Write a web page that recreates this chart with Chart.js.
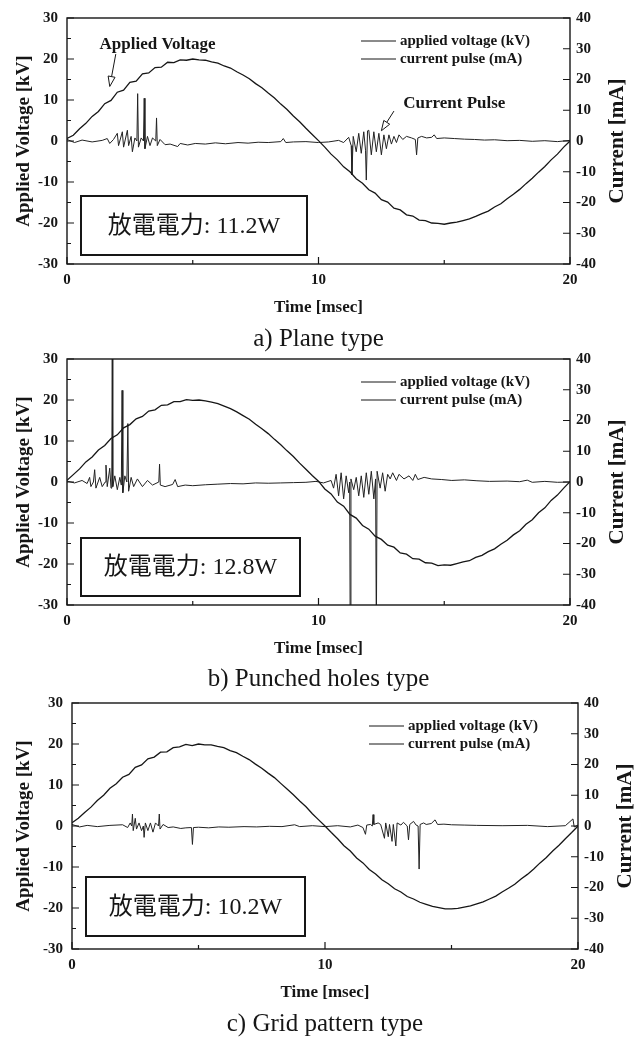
<!DOCTYPE html>
<html>
<head>
<meta charset="utf-8">
<script src="https://cdn.jsdelivr.net/npm/chart.js@4.4.0/dist/chart.umd.min.js"></script>
<style>
  body { margin: 0; background: #fff; width: 643px; height: 1045px; position: relative; overflow: hidden; }
  canvas { position: absolute; left: 0; }
  .cap { position: absolute; font: 25px "Liberation Serif", serif; color: #161616; text-align: center; line-height: 26px; }
</style>
</head>
<body>
<canvas id="pa" width="643" height="326" style="top:0px"></canvas>
<canvas id="pb" width="643" height="326" style="top:341px"></canvas>
<canvas id="pc" width="643" height="326" style="top:685px"></canvas>
<div class="cap" style="left:67px;width:503px;top:325px">a) Plane type</div>
<div class="cap" style="left:67px;width:503px;top:665px">b) Punched holes type</div>
<div class="cap" style="left:72px;width:506px;top:1010px">c) Grid pattern type</div>
<script>
'use strict';
// axes
const timeTicks = [0, 10, 20];
const timeMinor = [5, 15];
const voltTicks = [-30, -20, -10, 0, 10, 20, 30];
const voltMinor = [-25, -15, -5, 5, 15, 25];
const curTicks = [-40, -30, -20, -10, 0, 10, 20, 30, 40];

// applied voltage, sampled every 0.25 ms (kV)
const voltTime = [0,0.25,0.5,0.75,1,1.25,1.5,1.75,2,2.25,2.5,2.75,3,3.25,3.5,3.75,4,4.25,4.5,4.75,5,
  5.25,5.5,5.75,6,6.25,6.5,6.75,7,7.25,7.5,7.75,8,8.25,8.5,8.75,9,9.25,9.5,9.75,10,
  10.25,10.5,10.75,11,11.25,11.5,11.75,12,12.25,12.5,12.75,13,13.25,13.5,13.75,14,14.25,14.5,14.75,15,
  15.25,15.5,15.75,16,16.25,16.5,16.75,17,17.25,17.5,17.75,18,18.25,18.5,18.75,19,19.25,19.5,19.75,20];

const voltA = [0.6,1.4,3.0,4.3,6.0,7.2,9.1,9.9,11.9,12.4,14.3,14.6,16.4,16.6,17.9,18.0,19.2,19.1,19.8,19.7,20.0,
  19.8,19.7,19.3,19.0,18.3,17.8,16.9,16.1,15.2,14.0,13.0,11.7,10.5,9.0,7.7,6.1,4.7,3.1,1.6,0.1,
  -1.5,-3.2,-4.6,-6.3,-7.5,-9.2,-10.3,-11.9,-12.7,-14.3,-14.9,-16.4,-16.8,-18.0,-18.3,-19.3,-19.4,-20.0,-20.1,-20.3,
  -20.0,-19.8,-19.4,-19.0,-18.4,-17.7,-17.1,-16.1,-15.3,-14.1,-13.0,-11.8,-10.4,-9.1,-7.6,-6.2,-4.6,-3.2,-1.5,0.0];

const voltB = [0.4,1.8,3.2,4.9,6.1,7.8,8.9,10.6,11.5,13.2,14.0,15.4,16.0,17.3,17.6,18.7,18.8,19.6,19.6,20.1,19.9,
  20.0,19.8,19.5,19.1,18.5,17.9,17.1,16.2,15.3,14.1,13.0,11.8,10.4,9.1,7.6,6.2,4.6,3.1,1.6,0.2,
  -1.7,-2.9,-4.9,-5.9,-7.9,-8.8,-10.6,-11.5,-13.2,-14.0,-15.4,-15.9,-17.3,-17.6,-18.7,-18.8,-19.7,-19.8,-20.4,-20.2,
  -20.3,-19.9,-19.5,-19.2,-18.4,-17.9,-17.0,-16.3,-15.2,-14.2,-12.9,-11.9,-10.3,-9.2,-7.5,-6.3,-4.5,-3.2,-1.5,0.1];

const voltC = [0.8,1.9,3.3,4.6,6.2,7.5,9.2,10.3,11.9,12.6,14.3,14.9,16.4,16.8,18.0,18.1,19.1,19.3,19.9,19.6,20.0,
  19.8,19.8,19.4,19.1,18.4,17.9,17.0,16.2,15.1,14.1,12.9,11.8,10.4,9.0,7.6,6.1,4.7,3.0,1.5,0.0,
  -1.6,-3.1,-4.8,-6.1,-7.8,-9.0,-10.6,-11.7,-13.1,-14.1,-15.3,-16.1,-17.2,-17.8,-18.6,-19.1,-19.6,-19.9,-20.2,-20.2,
  -20.1,-19.8,-19.5,-19.0,-18.5,-17.8,-17.1,-16.1,-15.2,-14.2,-12.9,-11.8,-10.5,-9.0,-7.7,-6.1,-4.7,-3.1,-1.6,0.0];

// current pulses (ms, mA)
const curTimeA = [0,0.3,0.6,1.0,1.4,1.6,1.7,1.85,2.0,2.05,2.2,2.25,2.4,2.45,2.55,2.6,2.7,2.78,2.81,2.84,2.95,3.04,3.07,3.1,3.2,3.3,3.4,3.53,3.56,3.59,
  3.7,3.9,4.1,4.4,4.5,4.8,5.1,5.5,5.9,6.3,6.8,7.2,7.6,8.0,8.5,8.6,8.7,9.0,9.5,10.0,10.4,10.8,11.0,11.2,11.3,11.33,11.38,11.5,11.6,11.7,
  11.8,11.87,11.9,11.95,12.0,12.1,12.2,12.3,12.4,12.5,12.6,12.7,12.8,12.9,13.0,13.1,13.2,13.35,13.5,13.7,13.85,13.9,13.95,14.1,14.3,14.5,14.6,14.7,
  15.0,15.4,15.8,16.2,16.6,17.0,17.5,18.0,18.5,19.0,19.5,20];
const curA = [0.5,-0.5,0.3,-0.3,0.2,0.8,-0.8,0.5,2.5,-1.5,3.0,-2.0,3.5,-1.5,1.5,-3.5,1.0,0,15.4,-2.0,1.0,0,13.9,-2.5,1.5,-1.5,1.0,0,7.5,-1.5,
  0.5,-1.2,-1.0,-1.8,-0.8,-1.3,-0.8,-1.0,-0.6,-0.9,-0.5,-0.7,-0.4,-0.5,-0.2,0.8,-0.5,-0.3,-0.2,-0.5,-0.3,0.2,-0.5,1.2,-1.5,-11,1.5,-3.5,2.5,-4.0,
  3.0,-3.0,-12.7,3.3,3.5,-4.5,3.0,-3.5,2.5,-4.5,2.0,-2.5,2.0,-1.0,1.5,-0.5,2.0,0.5,1.5,1.0,0.5,-4.5,1.0,1.5,1.0,1.2,2.0,0.8,
  1.0,0.8,0.6,0.5,0.3,0.4,0.1,0.2,-0.1,0.1,-0.2,0.2];

const curTimeB = [0,0.3,0.6,0.8,0.9,0.95,1.05,1.1,1.15,1.3,1.4,1.52,1.55,1.6,1.7,1.75,1.78,1.8,1.82,1.9,2.0,2.1,2.16,2.19,2.22,2.3,2.38,2.42,2.45,2.55,
  2.65,2.8,3.0,3.2,3.4,3.65,3.68,3.71,3.9,4.2,4.3,4.4,4.7,5.0,5.5,6.0,6.5,7.0,7.5,8.0,8.5,9.0,9.5,9.9,10.2,10.5,10.6,10.7,10.8,10.9,
  11.0,11.1,11.2,11.24,11.26,11.29,11.4,11.5,11.6,11.7,11.8,11.9,12.0,12.1,12.2,12.27,12.3,12.33,12.45,12.55,12.65,12.75,12.85,12.95,13.1,13.2,13.4,13.6,13.75,13.85,
  13.95,14.2,14.5,14.9,15.3,15.8,16.3,16.8,17.5,18.0,18.3,18.5,19.0,19.5,20];
const curB = [0.3,-0.3,0.5,-0.5,1.5,-1.5,0,4.0,-2.0,1.5,-1.5,0,5.5,-1.5,4.5,-2.0,0,45,-1.5,2.0,-2.5,1.5,-1.0,29.8,-3.5,2.0,0,19,-3.0,1.5,
  -1.5,1.0,-1.5,0.5,-1.0,0,5.8,-1.0,-1.5,-0.8,0.8,-1.5,-1.0,-1.2,-0.9,-0.7,-0.5,-0.6,-0.3,-0.4,-0.3,-0.2,-0.1,0.2,-0.3,0.5,-2.0,2.5,-4.5,3.0,
  -5.5,2.0,-3.5,0,-50,1.0,-2.5,1.5,-4.5,2.0,-5.0,3.0,-4.0,3.5,-5.5,1.0,-50,3.5,-2.0,3.0,-3.0,2.5,1.0,3.0,0.5,2.5,1.0,2.0,0.5,2.5,
  0.8,1.5,1.0,0.8,0.5,0.7,0.4,0.2,0.3,0.1,0.6,-0.1,0.2,-0.1,0];

const curTimeC = [0,0.3,0.6,1.0,1.5,2.0,2.2,2.3,2.36,2.39,2.42,2.5,2.55,2.65,2.75,2.82,2.85,2.9,3.0,3.1,3.2,3.3,3.42,3.45,3.48,3.6,3.8,4.0,4.3,4.5,
  4.72,4.76,4.8,5.0,5.4,5.8,6.2,6.8,7.3,7.8,8.3,8.8,9.0,9.5,10.0,10.5,11.0,11.3,11.5,11.6,11.65,11.8,11.87,11.9,11.93,12.1,12.2,12.35,12.4,12.5,
  12.55,12.65,12.7,12.8,12.85,13.0,13.1,13.25,13.3,13.35,13.5,13.6,13.68,13.72,13.76,13.9,14.0,14.2,14.35,14.45,14.7,15.0,15.5,16.0,17.0,18.0,18.8,19.5,19.8,19.85,20];
const curC = [0.5,-0.3,0.2,-0.2,0.2,0.4,-0.5,1.0,0,3.9,-1.5,2.5,-1.0,1.0,-1.5,0,-3.7,1.0,-1.5,1.0,-2.0,1.0,0,3.9,-1.0,0.5,-0.5,-0.3,-0.8,-0.6,
  -0.5,-6.0,-0.5,-0.4,-0.6,-0.3,-0.4,-0.2,-0.3,-0.1,-0.2,0.4,-0.2,0.1,-0.2,0.1,-0.3,0.3,-0.5,-2.7,0.3,0.5,0,3.7,0.5,1.0,0.5,-4.0,1.0,-3.5,
  0.5,-5.0,0.5,-6.5,1.0,0.3,1.2,0,-4.5,0.5,1.5,0.3,0,-14,0.5,1.0,0.5,0.8,2.0,0.5,0.6,0.4,0.3,0.2,0.1,0.2,-0.2,0.1,2.3,-0.3,0.3];

const ink = '#161616';
const serif = '"Liberation Serif", "Times New Roman", serif';

// per-panel extras: power box, callouts (in ms / kV)
const panelExtras = {
  pa: { box: '放電電力: 11.2W', boxW: 226, boxTop: 178, boxH: 59,
        notes: [
          { text: 'Applied Voltage', tx: 3.6, ty: 23.6, from: [1.94, 21.2], to: [1.7, 13.3] },
          { text: 'Current Pulse', tx: 15.4, ty: 9.0, from: [13.0, 7.3], to: [12.5, 2.5] }
        ] },
  pb: { box: '放電電力: 12.8W', boxW: 219, boxTop: 179, boxH: 58, notes: [] },
  pc: { box: '放電電力: 10.2W', boxW: 219, boxTop: 174, boxH: 59, notes: [] }
};

function arrow(ctx, x0, y0, x1, y1) {
  const ang = Math.atan2(y1 - y0, x1 - x0);
  const len = 10, half = 3.5;
  const bx = x1 - Math.cos(ang) * len, by = y1 - Math.sin(ang) * len;
  ctx.beginPath();
  ctx.moveTo(x0, y0);
  ctx.lineTo(bx, by);
  ctx.stroke();
  ctx.beginPath();
  ctx.moveTo(x1, y1);
  ctx.lineTo(bx - Math.sin(ang) * half, by + Math.cos(ang) * half);
  ctx.lineTo(bx + Math.sin(ang) * half, by - Math.cos(ang) * half);
  ctx.closePath();
  ctx.fillStyle = '#fff';
  ctx.fill();
  ctx.stroke();
}

const decor = {
  id: 'decor',
  afterDatasetsDraw(chart) {
    const ex = panelExtras[chart.canvas.id];
    const { ctx, chartArea: a } = chart;
    const sx = chart.scales.x, sy = chart.scales.y, sy2 = chart.scales.y2;
    ctx.save();
    ctx.strokeStyle = ink;
    ctx.lineWidth = 1.4;
    ctx.strokeRect(a.left, a.top, a.right - a.left, a.bottom - a.top);

    // inward tick marks
    ctx.lineWidth = 1.2;
    ctx.beginPath();
    voltTicks.forEach(v => { const p = sy.getPixelForValue(v); ctx.moveTo(a.left, p); ctx.lineTo(a.left + 7, p); });
    voltMinor.forEach(v => { const p = sy.getPixelForValue(v); ctx.moveTo(a.left, p); ctx.lineTo(a.left + 4, p); });
    curTicks.forEach(v => { const p = sy2.getPixelForValue(v); ctx.moveTo(a.right, p); ctx.lineTo(a.right - 7, p); });
    timeTicks.forEach(v => { const p = sx.getPixelForValue(v); ctx.moveTo(p, a.bottom); ctx.lineTo(p, a.bottom - 7); });
    timeMinor.forEach(v => { const p = sx.getPixelForValue(v); ctx.moveTo(p, a.bottom); ctx.lineTo(p, a.bottom - 4); });
    ctx.stroke();

    // legend
    ctx.fillStyle = ink;
    ctx.font = 'bold 15px ' + serif;
    ctx.textBaseline = 'middle';
    ctx.textAlign = 'left';
    chart.data.datasets.forEach((ds, i) => {
      const ly = a.top + 23 + i * 18;
      ctx.lineWidth = 1;
      ctx.beginPath();
      ctx.moveTo(a.right - 209, ly);
      ctx.lineTo(a.right - 174, ly);
      ctx.stroke();
      ctx.fillText(ds.label, a.right - 170, ly);
    });

    // right axis title, reading bottom to top
    ctx.save();
    ctx.translate(a.right + 48, (a.top + a.bottom) / 2);
    ctx.rotate(-Math.PI / 2);
    ctx.textAlign = 'center';
    ctx.font = 'bold 21px ' + serif;
    ctx.fillText('Current [mA]', 0, 0);
    ctx.restore();

    // callouts
    ctx.font = 'bold 17px ' + serif;
    ctx.textAlign = 'center';
    ex.notes.forEach(n => {
      ctx.fillStyle = ink;
      ctx.fillText(n.text, sx.getPixelForValue(n.tx), sy.getPixelForValue(n.ty));
      ctx.lineWidth = 1;
      arrow(ctx, sx.getPixelForValue(n.from[0]), sy.getPixelForValue(n.from[1]),
                 sx.getPixelForValue(n.to[0]), sy.getPixelForValue(n.to[1]));
    });

    // power box
    const bx = a.left + 14, by = a.top + ex.boxTop;
    ctx.fillStyle = '#fff';
    ctx.fillRect(bx, by, ex.boxW, ex.boxH);
    ctx.lineWidth = 2;
    ctx.strokeRect(bx, by, ex.boxW, ex.boxH);
    ctx.fillStyle = ink;
    ctx.font = '24px "Liberation Serif", "Noto Sans CJK JP", serif';
    ctx.fillText(ex.box, bx + ex.boxW / 2, by + ex.boxH / 2 + 1);
    ctx.restore();
  }
};

function ticksFrom(list) {
  return scale => { scale.ticks = list.map(v => ({ value: v })); };
}

function makePanel(id, volt, curT, cur, leftW, rightW) {
  const tickFont = { family: serif, size: 15, weight: 'bold' };
  return new Chart(document.getElementById(id), {
    type: 'line',
    data: {
      datasets: [
        { label: 'applied voltage (kV)', yAxisID: 'y',
          data: voltTime.map((t, i) => ({ x: t, y: volt[i] })),
          borderColor: ink, borderWidth: 1.3, pointRadius: 0, tension: 0 },
        { label: 'current pulse (mA)', yAxisID: 'y2',
          data: curT.map((t, i) => ({ x: t, y: cur[i] })),
          borderColor: '#222', borderWidth: 1, pointRadius: 0, tension: 0 }
      ]
    },
    options: {
      responsive: false,
      animation: false,
      events: [],
      layout: { padding: { top: 13, left: 0, right: 0, bottom: 0 } },
      plugins: { legend: { display: false }, tooltip: { enabled: false } },
      scales: {
        x: {
          type: 'linear', min: 0, max: 20,
          afterBuildTicks: ticksFrom(timeTicks),
          afterFit: s => { s.height = 62; },
          grid: { display: false, drawTicks: false }, border: { display: false },
          ticks: { font: tickFont, color: ink, padding: 7, autoSkip: false, maxRotation: 0 },
          title: { display: true, text: 'Time [msec]', color: ink,
                   font: { family: serif, size: 17, weight: 'bold' }, padding: { top: 0, bottom: 8 } }
        },
        y: {
          position: 'left', min: -30, max: 30,
          afterBuildTicks: ticksFrom(voltTicks),
          afterFit: s => { s.width = leftW; },
          grid: { display: false, drawTicks: false }, border: { display: false },
          ticks: { font: tickFont, color: ink, padding: 9, autoSkip: false },
          title: { display: true, text: 'Applied Voltage [kV]', color: ink,
                   font: { family: serif, size: 19, weight: 'bold' }, padding: { top: 13, bottom: 0 } }
        },
        y2: {
          position: 'right', min: -40, max: 40,
          afterBuildTicks: ticksFrom(curTicks),
          afterFit: s => { s.width = rightW; },
          grid: { display: false, drawTicks: false }, border: { display: false },
          ticks: { font: tickFont, color: ink, padding: 6, autoSkip: false }
        }
      }
    },
    plugins: [decor]
  });
}

makePanel('pa', voltA, curTimeA, curA, 67, 73);
makePanel('pb', voltB, curTimeB, curB, 67, 73);
makePanel('pc', voltC, curTimeC, curC, 72, 65);
</script>
</body>
</html>
